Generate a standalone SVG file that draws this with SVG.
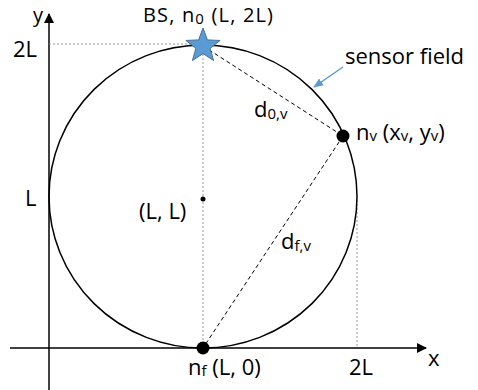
<svg xmlns="http://www.w3.org/2000/svg" width="478" height="390" viewBox="0 0 478 390">
<defs>
<style>
text{font-family:"Open Sans","Noto Sans",sans-serif;font-size:22px;fill:#000}
.sub{font-size:15px}
.top{font-size:20px}
.axis{stroke:#000;stroke-width:1.5;fill:none}
.dash{stroke:#000;stroke-width:1;stroke-dasharray:4 3;fill:none}
.dot{stroke:#999;stroke-width:1;stroke-dasharray:2 2;fill:none}
</style>
<marker id="ah" markerWidth="10" markerHeight="10" refX="9" refY="5" orient="auto" markerUnits="userSpaceOnUse">
<path d="M0,0 L10,5 L0,10 z" fill="#000"/>
</marker>
<marker id="bh" markerWidth="10" markerHeight="10" refX="9" refY="5" orient="auto" markerUnits="userSpaceOnUse">
<path d="M0,1 L10,5 L0,9 z" fill="#5B9BD5"/>
</marker>
</defs>
<rect width="478" height="390" fill="#fff"/>
<g id="axes">
<line class="axis" x1="49" y1="390" x2="49" y2="14" marker-end="url(#ah)"/>
<line class="axis" x1="10" y1="348" x2="426" y2="348" marker-end="url(#ah)"/>
<text class="top" x="33" y="22">y</text>
<text x="428" y="366">x</text>
<text x="13" y="57">2L</text>
<text x="25" y="206">L</text>
<text x="349" y="375">2L</text>
</g>
<g id="connectors">
<line class="dot" x1="49" y1="44" x2="203" y2="44"/>
<line class="dot" x1="203" y1="46" x2="203" y2="348"/>
<line class="dot" x1="357" y1="200" x2="357" y2="348"/>
<line class="dash" x1="203" y1="46" x2="343" y2="136"/>
<line class="dash" x1="343" y1="136" x2="203" y2="348"/>
<line x1="343" y1="67" x2="314" y2="87" stroke="#5B9BD5" stroke-width="1.5" marker-end="url(#bh)"/>
</g>
<g id="sensor-field">
<ellipse cx="203" cy="196.5" rx="154" ry="151.5" fill="none" stroke="#000" stroke-width="1.5"/>
<text x="345" y="64">sensor field</text>
</g>
<g id="center">
<circle cx="203" cy="199" r="2.5" fill="#000"/>
<text x="139" y="219">(L, L)</text>
</g>
<g id="bs">
<polygon points="203,28 207.41,39.93 220.12,40.44 210.13,48.32 213.58,60.56 203,53.5 192.42,60.56 195.87,48.32 185.88,40.44 198.59,39.93" fill="#5B9BD5" stroke="#41719C" stroke-width="1"/>
<text class="top" x="143" y="22" textLength="130" lengthAdjust="spacing">BS, n<tspan class="sub" dy="2">0</tspan><tspan dy="-2"> (L, 2L)</tspan></text>
</g>
<g id="nv">
<circle cx="343" cy="136" r="6.5" fill="#000"/>
<text x="356" y="140">n<tspan class="sub" dy="1">v</tspan><tspan dy="-1"> (x</tspan><tspan class="sub" dy="1">v</tspan><tspan dy="-1">, y</tspan><tspan class="sub" dy="1">v</tspan><tspan dy="-1">)</tspan></text>
</g>
<g id="nf">
<circle cx="203" cy="348" r="6.5" fill="#000"/>
<text x="188" y="375">n<tspan class="sub" dy="1">f</tspan><tspan dy="-1"> (L, 0)</tspan></text>
</g>
<g id="labels">
<text x="254" y="117">d<tspan class="sub" dy="2">0,v</tspan></text>
<text x="281" y="249">d<tspan class="sub" dy="2">f,v</tspan></text>
</g>
</svg>
